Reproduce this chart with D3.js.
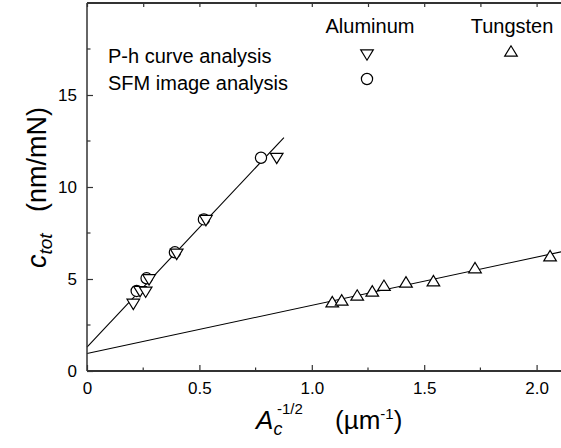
<!DOCTYPE html>
<html>
<head>
<meta charset="utf-8">
<script src="https://cdn.jsdelivr.net/npm/d3@7/dist/d3.min.js"></script>
<style>
  html, body { margin: 0; padding: 0; background: #fff; }
  svg { display: block; font-family: Arial, "Liberation Sans", Helvetica, sans-serif; }
</style>
</head>
<body>
<svg id="chart" width="561" height="448"></svg>
<script>
// Aluminum: P-h curve analysis (down triangles)
const alPhX = [0.206, 0.236, 0.261, 0.276, 0.399, 0.529, 0.844];
const alPhY = [3.62, 4.31, 4.28, 4.95, 6.34, 8.17, 11.55];
// Aluminum: SFM image analysis (circles)
const alSfmX = [0.221, 0.265, 0.391, 0.520, 0.774];
const alSfmY = [4.35, 5.04, 6.45, 8.24, 11.59];
// Tungsten: P-h curve analysis (up triangles)
const wPhX = [1.091, 1.133, 1.202, 1.269, 1.321, 1.419, 1.541, 1.726, 2.060];
const wPhY = [3.77, 3.86, 4.13, 4.35, 4.66, 4.84, 4.91, 5.62, 6.27];
// Linear fits: c_tot = intercept + slope * A^-1/2, drawn over [x0, x1]
const alFit = [1.30, 13.0, 0, 0.876];
const wFit = [0.95, 2.62, 0, 2.11];
// Axis ticks
const xMajor = [0, 0.5, 1.0, 1.5, 2.0];
const xMinor = [0.25, 0.75, 1.25, 1.75];
const xLabels = ["0", "0.5", "1.0", "1.5", "2.0"];
const yMajor = [0, 5, 10, 15];
const yMinor = [2.5, 7.5, 12.5, 17.5];
const yLabels = ["0", "5", "10", "15"];

(function () {
  const svg = d3.select("#chart");
  const mLeft = 87, mBottom = 371, mTop = 3, mRight = 561;
  const x = d3.scaleLinear().domain([0, 2.11]).range([mLeft, mLeft + 2.11 * 224.8]);
  const y = d3.scaleLinear().domain([0, 20]).range([mBottom, mTop]);

  const axisColor = "#333";

  // Fit lines
  function fitLine(f) {
    const pts = [f[2], f[3]].map(v => [x(v), y(f[0] + f[1] * v)]);
    svg.append("path")
      .attr("d", d3.line()(pts))
      .attr("fill", "none").attr("stroke", "#000").attr("stroke-width", 1.1);
  }
  fitLine(alFit);
  fitLine(wFit);

  // Marker shapes
  const triDown = d3.symbol().type({draw(ctx) { const w = 6.3, h = 5.2; ctx.moveTo(-w, -h); ctx.lineTo(w, -h); ctx.lineTo(0, h); ctx.closePath(); }})();
  const triUp = d3.symbol().type({draw(ctx) { const w = 6.3, h = 5.2; ctx.moveTo(-w, h); ctx.lineTo(w, h); ctx.lineTo(0, -h); ctx.closePath(); }})();

  function circles(xs, ys) {
    svg.append("g").selectAll("circle").data(xs).join("circle")
      .attr("cx", d => x(d)).attr("cy", (d, i) => y(ys[i])).attr("r", 5.6)
      .attr("fill", "#fff").attr("stroke", "#000").attr("stroke-width", 1.2);
  }
  function tris(xs, ys, path) {
    svg.append("g").selectAll("path").data(xs).join("path")
      .attr("d", path)
      .attr("transform", (d, i) => `translate(${x(d)},${y(ys[i])})`)
      .attr("fill", "#fff").attr("stroke", "#000").attr("stroke-width", 1.2);
  }
  circles(alSfmX, alSfmY);
  tris(alPhX, alPhY, triDown);
  tris(wPhX, wPhY, triUp);

  // Axes with inward ticks
  const bottomAxis = d3.axisBottom(x).tickValues(xMajor).tickSize(-6).tickPadding(11)
    .tickFormat((d, i) => xLabels[i]);
  const gx = svg.append("g").attr("transform", `translate(0,${mBottom})`).call(bottomAxis);
  gx.append("g").selectAll("line").data(xMinor).join("line")
    .attr("x1", d => x(d)).attr("x2", d => x(d)).attr("y1", 0).attr("y2", -3.5);

  const topAxis = d3.axisTop(x).tickValues(xMajor.concat(xMinor)).tickSize(-4).tickFormat("");
  const gt = svg.append("g").attr("transform", `translate(0,${mTop})`).call(topAxis);

  const leftAxis = d3.axisLeft(y).tickValues(yMajor).tickSize(-6).tickPadding(10)
    .tickFormat((d, i) => yLabels[i]);
  const gy = svg.append("g").attr("transform", `translate(${mLeft},0)`).call(leftAxis);
  gy.append("g").selectAll("line").data(yMinor).join("line")
    .attr("x1", 0).attr("x2", 3.5).attr("y1", d => y(d)).attr("y2", d => y(d));

  [gx, gt, gy].forEach(g => {
    g.select(".domain").remove();
    g.selectAll("line").attr("stroke", axisColor).attr("stroke-width", 1.2);
    g.selectAll("text").attr("font-size", 17).attr("fill", "#000")
      .attr("font-family", "Arial, 'Liberation Sans', sans-serif");
  });

  // Frame lines: bottom, left, top
  svg.append("line").attr("x1", mLeft).attr("x2", mRight).attr("y1", mBottom).attr("y2", mBottom)
    .attr("stroke", axisColor).attr("stroke-width", 2);
  svg.append("line").attr("x1", mLeft).attr("x2", mLeft).attr("y1", mTop).attr("y2", mBottom)
    .attr("stroke", axisColor).attr("stroke-width", 1.5);
  svg.append("line").attr("x1", mLeft).attr("x2", mRight).attr("y1", mTop).attr("y2", mTop)
    .attr("stroke", axisColor).attr("stroke-width", 2);

  // Legend
  const lg = svg.append("g").attr("font-size", 20).attr("fill", "#000");
  lg.append("text").attr("x", 370).attr("y", 33).attr("text-anchor", "middle").text("Aluminum");
  lg.append("text").attr("x", 512).attr("y", 33).attr("text-anchor", "middle").text("Tungsten");
  lg.append("text").attr("x", 108).attr("y", 63).text("P-h curve analysis");
  lg.append("text").attr("x", 108).attr("y", 90).text("SFM image analysis");
  svg.append("path").attr("d", triDown).attr("transform", "translate(367,55)")
    .attr("fill", "#fff").attr("stroke", "#000").attr("stroke-width", 1.2);
  svg.append("circle").attr("cx", 367).attr("cy", 79).attr("r", 5.6)
    .attr("fill", "#fff").attr("stroke", "#000").attr("stroke-width", 1.2);
  svg.append("path").attr("d", triUp).attr("transform", "translate(511,51)")
    .attr("fill", "#fff").attr("stroke", "#000").attr("stroke-width", 1.2);

  // X axis title: A_c^(-1/2)  (µm^-1)
  const xg = svg.append("g").attr("fill", "#000");
  xg.append("text").attr("x", 256).attr("y", 429).attr("font-size", 26)
    .attr("font-style", "italic").text("A");
  xg.append("text").attr("x", 273.5).attr("y", 435).attr("font-size", 18)
    .attr("font-style", "italic").text("c");
  xg.append("text").attr("x", 277).attr("y", 414).attr("font-size", 15).text("-1/2");
  const unit = xg.append("text").attr("x", 335).attr("y", 429).attr("font-size", 26);
  unit.append("tspan").text("(\u00b5m");
  unit.append("tspan").attr("font-size", 15).attr("dy", -10).text("-1");
  unit.append("tspan").attr("dy", 10).text(")");

  // Y axis title (rotated; text x runs upward)
  const yt = svg.append("text").attr("transform", "translate(46,0) rotate(-90)")
    .attr("font-size", 27).attr("fill", "#000");
  yt.append("tspan").attr("x", -268).attr("font-style", "italic").text("c");
  yt.append("tspan").attr("font-style", "italic").attr("font-size", 19).attr("dy", 6).text("tot");
  yt.append("tspan").attr("x", -212).attr("dy", -6).text("(nm/mN)");
})();
</script>
</body>
</html>
